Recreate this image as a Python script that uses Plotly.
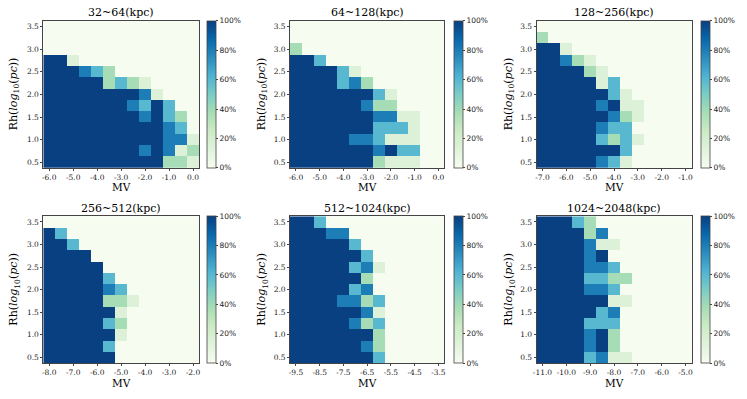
import plotly.graph_objects as go

# Rh grid (rows listed top to bottom) and MV grid per panel
rh = [3.5, 3.25, 3.0, 2.75, 2.5, 2.25, 2.0, 1.75, 1.5, 1.25, 1.0, 0.75, 0.5]
rh_ticks = [0.5, 1.0, 1.5, 2.0, 2.5, 3.0, 3.5]

titles = ['32~64(kpc)', '64~128(kpc)', '128~256(kpc)',
          '256~512(kpc)', '512~1024(kpc)', '1024~2048(kpc)']
mv_start = [-6.0, -6.0, -7.0, -8.0, -9.5, -11.0]

# fraction detected, rows follow rh (3.5 at top)
z_32_64 = [
    [0, 0, 0, 0, 0, 0, 0, 0, 0, 0, 0, 0, 0],
    [0, 0, 0, 0, 0, 0, 0, 0, 0, 0, 0, 0, 0],
    [0, 0, 0, 0, 0, 0, 0, 0, 0, 0, 0, 0, 0],
    [1, 1, .15, 0, 0, 0, 0, 0, 0, 0, 0, 0, 0],
    [1, 1, 1, .8, .6, .38, 0, 0, 0, 0, 0, 0, 0],
    [1, 1, 1, 1, 1, .38, .6, .38, .15, 0, 0, 0, 0],
    [1, 1, 1, 1, 1, 1, 1, 1, .8, .15, 0, 0, 0],
    [1, 1, 1, 1, 1, 1, 1, .8, .6, 1, .6, 0, 0],
    [1, 1, 1, 1, 1, 1, 1, 1, .8, 1, .6, .38, 0],
    [1, 1, 1, 1, 1, 1, 1, 1, 1, 1, .8, .6, 0],
    [1, 1, 1, 1, 1, 1, 1, 1, 1, 1, .8, .8, .15],
    [1, 1, 1, 1, 1, 1, 1, 1, .8, 1, .8, .15, .38],
    [1, 1, 1, 1, 1, 1, 1, 1, 1, 1, .38, .38, .15],
]
z_64_128 = [
    [0, 0, 0, 0, 0, 0, 0, 0, 0, 0, 0, 0, 0],
    [0, 0, 0, 0, 0, 0, 0, 0, 0, 0, 0, 0, 0],
    [.38, 0, 0, 0, 0, 0, 0, 0, 0, 0, 0, 0, 0],
    [1, 1, .6, 0, 0, 0, 0, 0, 0, 0, 0, 0, 0],
    [1, 1, 1, 1, .6, .15, 0, 0, 0, 0, 0, 0, 0],
    [1, 1, 1, 1, .6, .8, .38, 0, 0, 0, 0, 0, 0],
    [1, 1, 1, 1, 1, 1, 1, .6, .15, 0, 0, 0, 0],
    [1, 1, 1, 1, 1, 1, .8, .38, .38, 0, 0, 0, 0],
    [1, 1, 1, 1, 1, 1, 1, .8, .8, .15, .15, 0, 0],
    [1, 1, 1, 1, 1, 1, 1, .6, .6, .6, .15, 0, 0],
    [1, 1, 1, 1, 1, .8, .8, .6, .15, .15, .15, 0, 0],
    [1, 1, 1, 1, 1, 1, 1, .8, 1, .6, .6, 0, 0],
    [1, 1, 1, 1, 1, 1, 1, .38, .15, .15, .15, 0, 0],
]
z_128_256 = [
    [0, 0, 0, 0, 0, 0, 0, 0, 0, 0, 0, 0, 0],
    [.38, 0, 0, 0, 0, 0, 0, 0, 0, 0, 0, 0, 0],
    [1, 1, .15, 0, 0, 0, 0, 0, 0, 0, 0, 0, 0],
    [1, 1, .8, .38, .15, 0, 0, 0, 0, 0, 0, 0, 0],
    [1, 1, 1, 1, .38, .15, 0, 0, 0, 0, 0, 0, 0],
    [1, 1, 1, 1, 1, .15, .6, 0, 0, 0, 0, 0, 0],
    [1, 1, 1, 1, 1, 1, .6, .15, 0, 0, 0, 0, 0],
    [1, 1, 1, 1, 1, .8, 1, .15, .15, 0, 0, 0, 0],
    [1, 1, 1, 1, 1, 1, .8, .38, .15, 0, 0, 0, 0],
    [1, 1, 1, 1, 1, .8, .6, .6, 0, 0, 0, 0, 0],
    [1, 1, 1, 1, 1, .6, .38, .6, .15, 0, 0, 0, 0],
    [1, 1, 1, 1, 1, 1, 1, .6, 0, 0, 0, 0, 0],
    [1, 1, 1, 1, 1, .8, .6, .15, 0, 0, 0, 0, 0],
]
z_256_512 = [
    [0, 0, 0, 0, 0, 0, 0, 0, 0, 0, 0, 0, 0],
    [1, .6, 0, 0, 0, 0, 0, 0, 0, 0, 0, 0, 0],
    [1, 1, .6, 0, 0, 0, 0, 0, 0, 0, 0, 0, 0],
    [1, 1, 1, 1, 0, 0, 0, 0, 0, 0, 0, 0, 0],
    [1, 1, 1, 1, 1, 0, 0, 0, 0, 0, 0, 0, 0],
    [1, 1, 1, 1, 1, .6, 0, 0, 0, 0, 0, 0, 0],
    [1, 1, 1, 1, 1, .8, .6, 0, 0, 0, 0, 0, 0],
    [1, 1, 1, 1, 1, .38, .38, .15, 0, 0, 0, 0, 0],
    [1, 1, 1, 1, 1, 1, .15, 0, 0, 0, 0, 0, 0],
    [1, 1, 1, 1, 1, .6, .38, 0, 0, 0, 0, 0, 0],
    [1, 1, 1, 1, 1, 1, .15, 0, 0, 0, 0, 0, 0],
    [1, 1, 1, 1, 1, .6, 0, 0, 0, 0, 0, 0, 0],
    [1, 1, 1, 1, 1, 1, 0, 0, 0, 0, 0, 0, 0],
]
z_512_1024 = [
    [1, 1, .6, 0, 0, 0, 0, 0, 0, 0, 0, 0, 0],
    [1, 1, 1, .8, .8, 0, 0, 0, 0, 0, 0, 0, 0],
    [1, 1, 1, 1, 1, .6, 0, 0, 0, 0, 0, 0, 0],
    [1, 1, 1, 1, 1, 1, .6, 0, 0, 0, 0, 0, 0],
    [1, 1, 1, 1, 1, .6, .8, .15, 0, 0, 0, 0, 0],
    [1, 1, 1, 1, 1, 1, .38, 0, 0, 0, 0, 0, 0],
    [1, 1, 1, 1, 1, .6, .8, 0, 0, 0, 0, 0, 0],
    [1, 1, 1, 1, .8, .8, .38, .6, 0, 0, 0, 0, 0],
    [1, 1, 1, 1, 1, 1, .8, .15, 0, 0, 0, 0, 0],
    [1, 1, 1, 1, 1, .8, .38, .6, 0, 0, 0, 0, 0],
    [1, 1, 1, 1, 1, 1, 1, .38, 0, 0, 0, 0, 0],
    [1, 1, 1, 1, 1, 1, .8, .38, 0, 0, 0, 0, 0],
    [1, 1, 1, 1, 1, 1, 1, .6, 0, 0, 0, 0, 0],
]
z_1024_2048 = [
    [1, 1, 1, .6, .38, 0, 0, 0, 0, 0, 0, 0, 0],
    [1, 1, 1, 1, .38, .8, 0, 0, 0, 0, 0, 0, 0],
    [1, 1, 1, 1, .8, .15, .15, 0, 0, 0, 0, 0, 0],
    [1, 1, 1, 1, .8, 1, 0, 0, 0, 0, 0, 0, 0],
    [1, 1, 1, 1, .8, .8, .6, 0, 0, 0, 0, 0, 0],
    [1, 1, 1, 1, .6, .6, .38, .38, 0, 0, 0, 0, 0],
    [1, 1, 1, 1, .8, .8, .6, 0, 0, 0, 0, 0, 0],
    [1, 1, 1, 1, 1, 1, .15, .15, 0, 0, 0, 0, 0],
    [1, 1, 1, 1, 1, .6, .8, 0, 0, 0, 0, 0, 0],
    [1, 1, 1, 1, .6, .6, .6, 0, 0, 0, 0, 0, 0],
    [1, 1, 1, 1, .8, 1, .38, 0, 0, 0, 0, 0, 0],
    [1, 1, 1, 1, .8, 1, .38, 0, 0, 0, 0, 0, 0],
    [1, 1, 1, 1, .6, .8, .15, .15, 0, 0, 0, 0, 0],
]
panels = [z_32_64, z_64_128, z_128_256, z_256_512, z_512_1024, z_1024_2048]

cb_vals = [0, 0.2, 0.4, 0.6, 0.8, 1.0]
cb_text = ['0%', '20%', '40%', '60%', '80%', '100%']

W, H = 747, 399
# plot boxes in pixels (left, right) per column and (top, bottom) per row
cols_px = [(43.3, 199.0), (290.0, 444.3), (536.5, 691.5)]
rows_px = [(20.7, 168.0), (216.3, 363.0)]
cbar_px = [207.3, 454.0, 701.0]
ylab_px = [14.0, 262.0, 509.0]

serif = 'DejaVu Serif'
fig = go.Figure()
annotations = []
layout = {}

for i, z in enumerate(panels):
    r, c = divmod(i, 3)
    n = i + 1
    mv = [mv_start[i] + 0.5 * k for k in range(13)]
    mv_ticks = [mv_start[i] + k for k in range(7)]
    x0, x1 = cols_px[c][0] / W, cols_px[c][1] / W
    y0, y1 = 1 - rows_px[r][1] / H, 1 - rows_px[r][0] / H

    fig.add_trace(go.Heatmap(
        x=mv, y=rh, z=z,
        zmin=0, zmax=1,
        colorscale='GnBu',
        xaxis='x%d' % n, yaxis='y%d' % n,
        colorbar=dict(
            x=cbar_px[c] / W, xanchor='left', xpad=0,
            y=(y0 + y1) / 2, yanchor='middle', ypad=0,
            len=y1 - y0, lenmode='fraction',
            thickness=9, outlinewidth=0.8, outlinecolor='#444444',
            tickvals=cb_vals, ticktext=cb_text,
            ticks='outside', ticklen=2, tickwidth=0.8, tickcolor='#444444',
            tickfont=dict(family='DejaVu Sans', size=7.5, color='#222222'),
        ),
    ))

    axis_common = dict(
        showline=True, mirror=True, linecolor='#444444', linewidth=0.8,
        ticks='outside', ticklen=2, tickwidth=0.8, tickcolor='#444444',
        showgrid=False, zeroline=False, fixedrange=True,
        automargin=False, tickangle=0,
        tickfont=dict(family=serif, size=7.5, color='#222222'),
    )
    layout['xaxis%d' % n] = dict(
        axis_common, domain=[x0, x1], anchor='y%d' % n,
        range=[mv[0] - 0.25, mv[-1] + 0.25],
        tickvals=mv_ticks, ticktext=['%.1f' % v for v in mv_ticks],
    )
    layout['yaxis%d' % n] = dict(
        axis_common, domain=[y0, y1], anchor='x%d' % n,
        range=[0.375, 3.625],
        tickvals=rh_ticks, ticktext=['%.1f' % v for v in rh_ticks],
    )

    # panel title, axis labels
    annotations.append(dict(
        text=titles[i], x=(x0 + x1) / 2, y=1 - (12.7 if r == 0 else 208.5) / H,
        xref='paper', yref='paper', showarrow=False,
        xanchor='center', yanchor='middle',
        font=dict(family=serif, size=11, color='black'),
    ))
    annotations.append(dict(
        text='MV', x=(x0 + x1) / 2, y=1 - (187 if r == 0 else 382.5) / H,
        xref='paper', yref='paper', showarrow=False,
        xanchor='center', yanchor='middle',
        font=dict(family=serif, size=10.5, color='black'),
    ))
    annotations.append(dict(
        text='Rh(<i>log</i><sub>10</sub>(<i>pc</i>))',
        x=ylab_px[c] / W, y=(y0 + y1) / 2, textangle=-90,
        xref='paper', yref='paper', showarrow=False,
        xanchor='center', yanchor='middle',
        font=dict(family=serif, size=11, color='black'),
    ))

fig.update_layout(
    width=W, height=H,
    margin=dict(l=0, r=0, t=0, b=0),
    plot_bgcolor='white', paper_bgcolor='white',
    annotations=annotations,
    showlegend=False,
    **layout
)

# drop the page's default body margin so the figure fills the window
fig.write_html('out.html', config={'displayModeBar': False},
               post_script="document.body.style.margin = '0';")
